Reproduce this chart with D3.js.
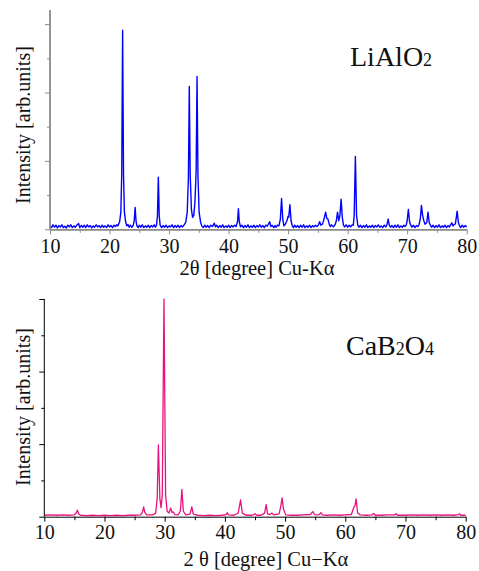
<!DOCTYPE html>
<html><head><meta charset="utf-8">
<script src="https://cdn.jsdelivr.net/npm/d3@7"></script>
<style>html,body{margin:0;padding:0;background:#fff;}svg{display:block;}text{font-family:"Liberation Serif","Times New Roman",serif !important;}</style>
</head><body><svg id="c" width="479" height="571"></svg>
<script>
const xTicks = [10,20,30,40,50,60,70,80];
const xMinorTicks = [15,25,35,45,55,65,75];
const yTicks = [0,1,2,3,4,5,6];

// LiAlO2 pattern: [2theta, intensity]
const liAlO2 = [
[10,0.10],[10.25,0.05],[10.5,0.13],[10.75,0.06],[11,0.12],[11.25,0.04],[11.5,0.11],[11.75,0.07],[12,0.13],[12.25,0.05],[12.5,0.09],[12.75,0.04],[13,0.12],[13.25,0.07],[13.5,0.13],[13.75,0.05],[14,0.10],[14.25,0.06],[14.5,0.12],[14.8,0.17],[15.0,0.05],[15.25,0.11],[15.5,0.06],[15.75,0.12],[16,0.05],[16.25,0.13],[16.5,0.07],[16.75,0.11],[17,0.04],[17.25,0.10],[17.5,0.06],[17.75,0.13],[18,0.07],[18.25,0.11],[18.5,0.05],[18.75,0.12],[19,0.06],[19.25,0.10],[19.5,0.05],[19.75,0.13],[20,0.07],[20.25,0.11],[20.5,0.05],[20.75,0.12],[21,0.08],[21.2,0.13],[21.4,0.10],[21.7,0.22],[21.9,0.5],[22.05,1.6],[22.2,5.82],[22.35,1.6],[22.5,0.5],[22.7,0.22],[22.9,0.10],[23.1,0.14],[23.3,0.06],[23.5,0.12],[23.75,0.06],[24.0,0.12],[24.15,0.25],[24.3,0.64],[24.45,0.25],[24.6,0.10],[24.8,0.05],[25,0.12],[25.25,0.06],[25.5,0.13],[25.75,0.05],[26,0.10],[26.25,0.06],[26.5,0.12],[26.75,0.05],[27,0.11],[27.25,0.07],[27.5,0.13],[27.7,0.06],[27.9,0.12],[28.05,0.4],[28.2,1.52],[28.35,0.4],[28.5,0.12],[28.75,0.05],[29,0.11],[29.25,0.06],[29.5,0.12],[29.75,0.05],[30,0.10],[30.25,0.07],[30.5,0.13],[30.75,0.05],[31,0.11],[31.25,0.06],[31.5,0.12],[31.75,0.05],[32,0.11],[32.25,0.07],[32.5,0.12],[32.8,0.2],[33.05,0.5],[33.25,1.5],[33.4,4.18],[33.55,1.6],[33.75,0.6],[33.95,0.35],[34.15,0.4],[34.35,0.8],[34.55,1.7],[34.7,4.47],[34.85,1.6],[35.05,0.5],[35.3,0.2],[35.5,0.10],[35.75,0.05],[36,0.12],[36.25,0.06],[36.5,0.11],[36.75,0.05],[37,0.12],[37.3,0.08],[37.6,0.18],[37.8,0.07],[38.0,0.12],[38.25,0.05],[38.5,0.11],[38.75,0.06],[39,0.13],[39.25,0.05],[39.5,0.10],[39.75,0.06],[40,0.12],[40.25,0.05],[40.5,0.11],[40.75,0.07],[41,0.12],[41.25,0.08],[41.5,0.22],[41.65,0.6],[41.8,0.22],[42.0,0.07],[42.25,0.12],[42.5,0.05],[42.75,0.11],[43,0.06],[43.25,0.13],[43.5,0.05],[43.75,0.10],[44,0.06],[44.25,0.12],[44.5,0.05],[44.75,0.11],[45,0.07],[45.25,0.13],[45.5,0.06],[45.75,0.11],[46,0.05],[46.25,0.12],[46.5,0.09],[46.9,0.22],[47.1,0.08],[47.3,0.12],[47.6,0.05],[47.8,0.11],[48.0,0.06],[48.2,0.12],[48.45,0.10],[48.7,0.3],[48.9,0.9],[49.1,0.3],[49.3,0.10],[49.5,0.14],[49.8,0.25],[50.0,0.38],[50.1,0.35],[50.3,0.72],[50.5,0.25],[50.7,0.10],[50.9,0.05],[51.1,0.12],[51.35,0.06],[51.6,0.11],[51.85,0.05],[52.1,0.12],[52.35,0.06],[52.6,0.13],[52.85,0.05],[53.1,0.10],[53.35,0.06],[53.6,0.12],[53.85,0.05],[54.1,0.11],[54.35,0.07],[54.6,0.12],[54.85,0.08],[55.1,0.13],[55.3,0.22],[55.5,0.12],[55.8,0.16],[56.1,0.35],[56.3,0.5],[56.5,0.32],[56.7,0.3],[56.9,0.15],[57.1,0.08],[57.3,0.13],[57.6,0.07],[57.9,0.14],[58.1,0.25],[58.3,0.5],[58.5,0.25],[58.7,0.4],[58.9,0.88],[59.1,0.35],[59.3,0.12],[59.5,0.07],[59.75,0.13],[60.0,0.06],[60.25,0.12],[60.5,0.07],[60.75,0.13],[60.95,0.12],[61.1,0.4],[61.3,2.13],[61.5,0.4],[61.7,0.12],[61.9,0.06],[62.15,0.12],[62.4,0.05],[62.65,0.11],[62.9,0.06],[63.15,0.13],[63.4,0.05],[63.65,0.10],[63.9,0.06],[64.15,0.12],[64.4,0.05],[64.65,0.11],[64.9,0.07],[65.15,0.13],[65.4,0.06],[65.65,0.10],[65.9,0.05],[66.15,0.12],[66.4,0.07],[66.6,0.13],[66.8,0.3],[67.0,0.12],[67.2,0.06],[67.45,0.11],[67.7,0.05],[67.95,0.12],[68.2,0.06],[68.45,0.13],[68.7,0.05],[68.95,0.10],[69.2,0.06],[69.45,0.12],[69.65,0.08],[69.85,0.13],[70.0,0.25],[70.2,0.58],[70.4,0.22],[70.6,0.12],[70.8,0.06],[71.05,0.12],[71.3,0.05],[71.55,0.11],[71.8,0.08],[72.0,0.14],[72.2,0.3],[72.4,0.7],[72.6,0.4],[72.8,0.25],[73.0,0.15],[73.3,0.2],[73.5,0.5],[73.7,0.2],[73.9,0.12],[74.1,0.06],[74.35,0.12],[74.6,0.05],[74.85,0.11],[75.1,0.06],[75.35,0.13],[75.6,0.05],[75.85,0.10],[76.1,0.06],[76.35,0.12],[76.6,0.05],[76.85,0.11],[77.1,0.07],[77.3,0.13],[77.5,0.19],[77.7,0.10],[77.9,0.14],[78.1,0.16],[78.4,0.53],[78.6,0.2],[78.8,0.10],[79.0,0.05],[79.25,0.12],[79.5,0.06],[79.75,0.11],[80,0.07]
];

// CaB2O4 pattern: [2theta, intensity]
const caB2O4 = [
[10,0.04],[11,0.05],[12,0.04],[13,0.05],[14,0.04],[15,0.05],[15.3,0.10],[15.5,0.18],[15.7,0.08],[16,0.04],[17,0.03],[18,0.04],[19,0.03],[20,0.04],[21,0.03],[22,0.04],[23,0.03],[24,0.04],[25,0.04],[26,0.05],[26.3,0.12],[26.5,0.27],[26.7,0.12],[27,0.05],[28,0.05],[28.5,0.10],[28.75,0.5],[28.95,1.98],[29.2,0.5],[29.4,0.25],[29.6,0.6],[29.88,6.0],[30.15,0.6],[30.4,0.15],[30.7,0.10],[31.0,0.24],[31.2,0.12],[31.4,0.13],[31.7,0.06],[32.2,0.05],[32.6,0.15],[32.85,0.75],[33.1,0.15],[33.5,0.05],[34.2,0.07],[34.5,0.27],[34.75,0.07],[35.5,0.04],[36.5,0.03],[37.5,0.04],[38.5,0.03],[39.5,0.04],[40.2,0.06],[40.4,0.11],[40.6,0.05],[41.5,0.04],[42.2,0.10],[42.6,0.46],[42.9,0.10],[43.5,0.04],[44.5,0.04],[45.0,0.08],[45.3,0.04],[46.0,0.04],[46.6,0.10],[46.85,0.33],[47.1,0.08],[47.5,0.06],[47.8,0.10],[48.1,0.05],[49.0,0.08],[49.3,0.3],[49.5,0.52],[49.75,0.2],[50.1,0.05],[51,0.04],[52,0.04],[53,0.05],[54.2,0.06],[54.6,0.14],[54.9,0.06],[55.6,0.05],[55.95,0.11],[56.2,0.05],[57,0.04],[58,0.05],[59,0.04],[60,0.05],[61,0.06],[61.4,0.25],[61.6,0.3],[61.8,0.49],[62.05,0.10],[62.5,0.05],[63.5,0.04],[64.4,0.05],[64.7,0.09],[65.0,0.04],[66,0.04],[67,0.05],[68.2,0.05],[68.45,0.08],[68.7,0.04],[70,0.04],[71,0.05],[72,0.04],[73,0.05],[74,0.04],[75,0.05],[76,0.04],[77,0.05],[78,0.04],[78.8,0.06],[79.0,0.08],[79.2,0.04],[80,0.04]
];

const svg = d3.select('#c');
const FONT = '"Liberation Serif","Times New Roman",serif';

function panel(cfg){
  const g = svg.append('g');
  const x = d3.scaleLinear().domain([10,80]).range([cfg.x0, cfg.x1]);
  const y = d3.scaleLinear().domain([0, cfg.yMax]).range([cfg.yBase, cfg.yTop]);
  g.append('path').datum(cfg.data)
    .attr('fill','none').attr('stroke',cfg.color).attr('stroke-width',cfg.lw)
    .attr('stroke-linejoin','round')
    .attr('d', d3.line().x(d=>x(d[0])).y(d=>y(d[1])));
  const ya = g.append('g').attr('transform',`translate(${cfg.x0},0)`)
    .call(d3.axisLeft(y).tickValues(yTicks).tickFormat('').tickSizeOuter(0).tickSizeInner(5));
  ya.selectAll('.tick line').attr('x2', d=> d%2===0 ? -5 : -3);
  ya.select('.domain').attr('d', `M0,${cfg.yBase}V${cfg.yTop}`);
  const xa = g.append('g').attr('transform',`translate(0,${cfg.yBase})`)
    .call(d3.axisBottom(x).tickValues(xTicks).tickSizeOuter(0).tickSizeInner(5).tickPadding(cfg.pad));
  const xm = g.append('g').attr('transform',`translate(0,${cfg.yBase})`)
    .call(d3.axisBottom(x).tickValues(xMinorTicks).tickFormat('').tickSizeOuter(0).tickSizeInner(3.5));
  xm.select('.domain').remove();
  [ya,xa,xm].forEach(a=>{
    a.attr('font-family', FONT);
    a.selectAll('.domain').attr('stroke',cfg.axisColor).attr('stroke-width',cfg.aw);
    a.selectAll('.tick line').attr('stroke',cfg.axisColor).attr('stroke-width',1);
  });
  xa.attr('font-size',20);
  xa.selectAll('.tick text').style('font-family',FONT).style('font-size','20px').attr('fill','#111');
  g.append('text').attr('x',cfg.xlx).attr('y',cfg.xly).attr('text-anchor','middle')
    .style('font-family',FONT).style('font-size','20.5px').attr('fill','#111').text(cfg.xlabel);
  g.append('text').attr('transform',`translate(${cfg.ylx},${cfg.yly}) rotate(-90)`)
    .attr('text-anchor','middle').style('font-family',FONT).style('font-size','20px').attr('fill','#111')
    .text('Intensity [arb.units]');
  const t = g.append('text').attr('x',cfg.tx).attr('y',cfg.ty).style('font-family',FONT).style('font-size','28px').attr('fill','#111');
  cfg.title.forEach(p=>{
    t.append('tspan').style('font-size', p[1] ? '18px' : '28px').text(p[0]);
  });
}

panel({data: liAlO2, color:'#0000ff', lw:1.4, x0:50, x1:466.7, yBase:229.3, yTop:10,
  yMax:(229.3-10)/34.2, axisColor:'#8a8a8a', aw:1.8, pad:5,
  xlabel:'2θ [degree] Cu-Kα', xlx:257, xly:275, ylx:30, yly:125,
  title:[['LiAlO',0],['2',1]], tx:350, ty:66});

panel({data: caB2O4, color:'#e8127c', lw:1.3, x0:44.3, x1:465.7, yBase:516.7, yTop:299,
  yMax:6, axisColor:'#000', aw:1, pad:3,
  xlabel:'2 θ [degree] Cu−Kα', xlx:266, xly:566, ylx:30, yly:407,
  title:[['CaB',0],['2',1],['O',0],['4',1]], tx:346, ty:355});
</script></body></html>
